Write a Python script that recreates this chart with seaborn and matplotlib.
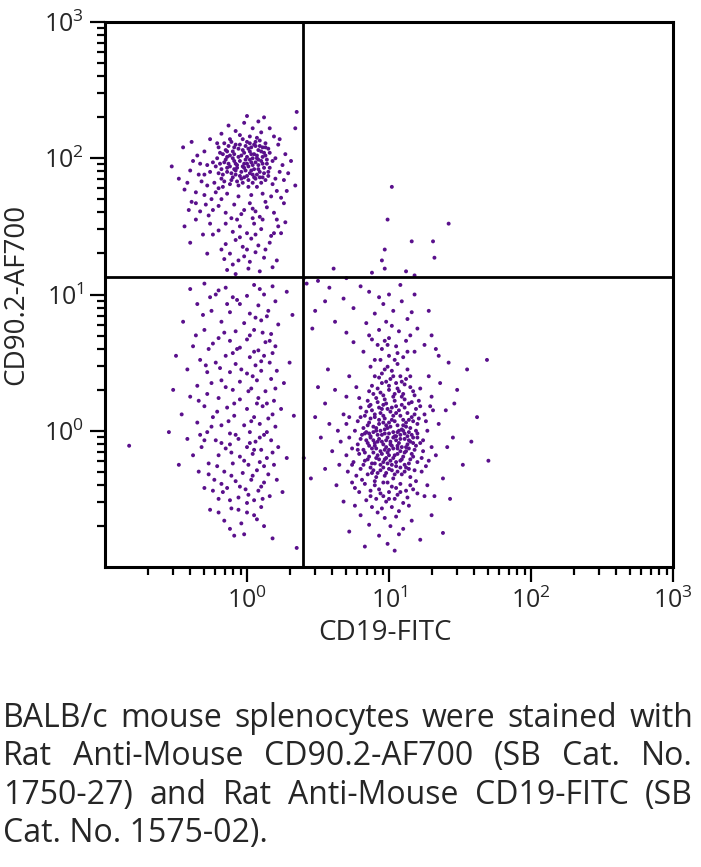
"""
Flow cytometry dot plot: CD19-FITC vs CD90.2-AF700 on BALB/c splenocytes
"""

import matplotlib
matplotlib.use('Agg')
import matplotlib.pyplot as plt
import matplotlib.ticker as mticker
import numpy as np
import pandas as pd
import seaborn as sns

sns.set_style('ticks')
FONT = ['Open Sans', 'DejaVu Sans']
plt.rcParams['font.family'] = FONT
plt.rcParams['mathtext.fontset'] = 'custom'
plt.rcParams['mathtext.rm'] = 'Open Sans'
plt.rcParams['mathtext.it'] = 'Open Sans'

# event data, in log10 units (CD19-FITC, CD90.2-AF700)
t_cells_log = [
    (-0.12, 2.02), (-0.05, 1.98), (0.02, 2.05), (0.08, 1.95), (-0.18, 1.92), (0.11, 2.08), (-0.08, 2.10), (0.04, 1.88), (-0.02, 1.93), (0.14, 1.99),
    (-0.15, 2.06), (0.06, 2.12), (-0.10, 1.86), (0.00, 2.01), (0.09, 1.90), (-0.21, 2.00), (0.16, 2.04), (-0.06, 2.07), (0.03, 1.97), (-0.13, 1.96),
    (0.12, 1.93), (-0.03, 2.14), (0.07, 2.02), (-0.17, 1.88), (0.01, 1.84), (-0.09, 2.03), (0.10, 1.98), (-0.01, 2.09), (0.05, 1.92), (-0.20, 2.08),
    (0.13, 2.11), (-0.07, 1.95), (0.02, 1.89), (-0.14, 2.01), (0.08, 2.06), (-0.04, 1.90), (0.15, 1.87), (-0.11, 2.12), (0.04, 2.00), (-0.16, 1.97),
    (0.06, 1.85), (-0.02, 2.04), (0.11, 2.01), (-0.08, 1.91), (0.00, 1.96), (-0.19, 2.04), (0.09, 2.13), (-0.05, 1.87), (0.03, 2.08), (-0.12, 1.94),
    (0.14, 1.96), (-0.01, 1.99), (0.07, 1.88), (-0.15, 1.99), (0.02, 2.11), (-0.09, 1.98), (0.12, 1.89), (-0.06, 2.01), (0.05, 2.03), (-0.22, 1.94),
    (0.10, 2.05), (-0.03, 1.94), (0.01, 2.07), (-0.13, 2.09), (0.08, 1.99), (-0.07, 1.83), (0.16, 1.93), (-0.10, 2.05), (0.04, 1.95), (-0.18, 1.85),
    (0.06, 2.09), (-0.04, 2.02), (0.13, 2.02), (-0.02, 1.86), (0.00, 2.12), (-0.16, 2.11), (0.09, 1.86), (-0.08, 1.96), (0.03, 1.91), (-0.11, 1.89),
    (0.11, 1.96), (-0.05, 2.10), (0.07, 2.15), (-0.14, 1.93), (0.02, 1.99), (-0.20, 1.89), (0.15, 2.07), (-0.01, 1.91), (0.05, 1.86), (-0.09, 2.08),
    (-0.24, 1.97), (0.18, 1.98), (-0.06, 1.80), (0.10, 1.82), (-0.12, 1.81), (0.01, 1.79), (0.07, 1.79), (-0.17, 1.79), (0.13, 1.84), (-0.03, 1.82),
    (-0.30, 2.05), (-0.34, 1.88), (-0.28, 1.80), (0.22, 2.10), (0.25, 1.95), (0.20, 1.85), (-0.38, 1.98), (-0.42, 1.82), (0.27, 2.03), (-0.26, 2.14),
    (0.19, 2.16), (-0.08, 2.20), (0.04, 2.22), (0.10, 2.19), (-0.02, 2.26), (0.08, 2.27), (-0.18, 2.18), (0.16, 2.22), (-0.30, 1.73), (-0.36, 1.75),
    (-0.25, 1.70), (-0.44, 1.77), (0.21, 1.76), (0.24, 1.71), (0.17, 1.72), (-0.48, 1.85), (-0.40, 1.91), (-0.33, 1.96), (0.29, 1.89), (0.31, 1.98),
    (-0.22, 1.75), (-0.14, 1.74), (0.03, 1.73), (-0.06, 1.72), (0.11, 1.74), (-0.29, 1.66), (-0.20, 1.65), (-0.09, 1.66), (0.02, 1.67), (0.14, 1.64),
    (-0.33, 1.61), (-0.24, 1.62), (-0.15, 1.60), (0.06, 1.61), (0.19, 1.60), (-0.39, 1.68), (0.26, 1.67), (-0.53, 1.94), (-0.45, 2.08), (-0.39, 2.12),
    (0.23, 2.14), (-0.13, 2.24), (0.12, 2.30), (0.00, 2.31), (-0.27, 1.58), (0.09, 1.57), (-0.04, 1.59), (0.21, 1.55), (-0.41, 1.62), (0.34, 1.80),
    (-0.15, 1.52), (-0.05, 1.50), (0.05, 1.52), (-0.10, 1.46), (0.00, 1.45), (-0.20, 1.47), (0.10, 1.48), (-0.08, 1.40), (0.03, 1.41), (-0.15, 1.37),
    (0.17, 1.43), (-0.03, 1.35), (0.08, 1.36), (-0.12, 1.30), (-0.02, 1.28), (0.06, 1.31), (-0.18, 1.33), (-0.06, 1.25), (0.02, 1.24), (-0.10, 1.22),
    (0.12, 1.27), (0.19, 1.45), (0.16, 1.38), (-0.31, 1.44), (-0.40, 1.38), (-0.26, 1.52), (0.22, 1.50), (0.27, 1.53), (-0.07, 1.55), (0.11, 1.55),
    (-0.36, 1.55), (0.24, 1.45), (0.01, 1.19), (-0.14, 1.18), (0.09, 1.17), (0.35, 2.34), (0.34, 2.22),
    (-0.17, 2.03), (-0.10, 2.00), (-0.03, 2.06), (0.05, 2.10), (0.12, 2.04), (-0.14, 1.90), (-0.07, 1.93), (0.01, 1.94), (0.08, 1.92), (0.15, 1.90),
    (-0.19, 1.96), (-0.11, 1.84), (-0.04, 1.85), (0.04, 1.82), (0.11, 1.86), (-0.16, 1.83), (-0.08, 1.88), (0.00, 1.87), (0.06, 1.97), (0.13, 2.08),
    (-0.12, 2.14), (-0.05, 2.17), (0.02, 2.16), (0.09, 2.09), (-0.21, 2.11), (-0.02, 1.96), (0.07, 2.00), (-0.09, 1.92), (0.03, 2.03), (-0.14, 2.05),
    (-0.26, 1.90), (-0.32, 1.83), (0.20, 2.00), (0.23, 1.90), (-0.23, 1.82), (0.18, 1.81), (-0.35, 2.02), (-0.28, 1.95), (0.26, 1.84), (0.28, 1.76),
    (-0.36, 1.67), (-0.18, 1.70), (-0.02, 1.62), (0.13, 1.68), (-0.11, 1.56), (0.04, 1.56), (-0.24, 1.44), (0.13, 1.33), (-0.28, 1.30), (0.21, 1.25),
    (-0.05, 1.42), (0.06, 1.44), (-0.16, 1.26), (0.00, 1.33), (-0.44, 1.50), (0.18, 1.20), (-0.08, 1.15), (0.04, 1.63), (-0.30, 1.88), (-0.20, 1.78),
]

dn_cells_log = [
    (-0.30, 1.08), (-0.15, 1.05), (0.05, 1.07), (0.18, 1.06), (-0.22, 1.00), (-0.10, 0.98), (0.00, 0.99), (0.12, 1.00), (-0.35, 0.93), (-0.05, 0.93),
    (0.08, 0.92), (0.20, 0.95), (-0.25, 0.88), (-0.12, 0.87), (0.02, 0.86), (0.15, 0.88), (-0.45, 0.80), (-0.18, 0.80), (-0.02, 0.79), (0.10, 0.81),
    (0.22, 0.78), (-0.30, 0.74), (-0.08, 0.73), (0.05, 0.74), (0.17, 0.71), (-0.20, 0.68), (-0.12, 0.66), (0.00, 0.67), (0.13, 0.65), (-0.38, 0.62),
    (-0.27, 0.60), (-0.05, 0.61), (0.08, 0.59), (0.20, 0.62), (-0.15, 0.55), (0.02, 0.54), (0.12, 0.55), (-0.33, 0.52), (-0.22, 0.50), (-0.08, 0.49),
    (0.06, 0.48), (0.16, 0.50), (-0.42, 0.45), (-0.28, 0.43), (-0.12, 0.43), (0.00, 0.42), (0.10, 0.44), (0.21, 0.44), (-0.18, 0.37), (-0.05, 0.36),
    (0.07, 0.37), (0.17, 0.38), (-0.35, 0.33), (-0.25, 0.35), (-0.10, 0.30), (0.03, 0.31), (0.13, 0.29), (-0.40, 0.25), (-0.20, 0.24), (-0.05, 0.23),
    (0.08, 0.24), (0.19, 0.22), (-0.30, 0.18), (-0.14, 0.17), (0.00, 0.16), (0.11, 0.18), (0.24, 0.16), (-0.46, 0.12), (-0.24, 0.10), (-0.09, 0.11),
    (0.05, 0.10), (0.15, 0.09), (-0.35, 0.06), (-0.18, 0.04), (-0.02, 0.04), (0.09, 0.05), (0.20, 0.03), (-0.28, -0.01), (-0.12, -0.02), (0.02, -0.01),
    (0.12, -0.03), (-0.83, -0.11), (-0.42, -0.06), (-0.22, -0.07), (-0.06, -0.06), (0.06, -0.08), (0.17, -0.07), (-0.32, -0.12), (-0.15, -0.13), (0.00, -0.12),
    (0.10, -0.14), (0.22, -0.12), (-0.38, -0.18), (-0.20, -0.18), (-0.05, -0.19), (0.04, -0.17), (0.14, -0.20), (-0.27, -0.24), (-0.10, -0.24), (0.01, -0.25),
    (0.09, -0.23), (0.19, -0.25), (-0.34, -0.30), (-0.16, -0.30), (-0.03, -0.31), (0.07, -0.29), (0.15, -0.32), (-0.23, -0.36), (-0.08, -0.37), (0.03, -0.36),
    (0.12, -0.38), (-0.30, -0.42), (-0.14, -0.42), (-0.01, -0.43), (0.08, -0.44), (-0.20, -0.50), (-0.06, -0.49), (0.05, -0.51), (0.16, -0.48), (-0.26, -0.58),
    (-0.11, -0.57), (0.00, -0.60), (0.10, -0.56), (-0.16, -0.66), (-0.04, -0.68), (0.07, -0.65), (-0.09, -0.77), (-0.02, -0.76), (0.18, -0.79), (0.35, -0.86),
    (0.26, 0.35), (0.32, 0.85), (0.28, -0.20), (0.33, 0.11), (-0.50, 0.55), (-0.55, -0.01), (-0.48, -0.25), (-0.52, 0.30), (0.25, -0.45), (0.30, 0.50),
    (-0.36, 0.70), (-0.26, 0.98), (-0.40, 1.04), (0.28, 1.02), (0.11, 0.72), (-0.14, 0.93), (0.05, 0.58), (-0.28, 0.27), (-0.17, -0.45), (0.02, -0.09),
    (-0.07, 0.60), (0.14, 0.20), (-0.33, -0.03), (-0.19, 0.46), (0.21, -0.36), (0.06, 0.83), (-0.11, -0.16), (0.18, 0.57), (-0.24, -0.44), (0.01, 0.29),
    (-0.20, 1.03), (0.09, 1.04), (-0.07, 0.96), (0.14, 0.84), (-0.31, 0.85), (-0.16, 0.72), (0.02, 0.70), (-0.24, 0.64), (0.16, 0.66), (-0.10, 0.57),
    (0.10, 0.51), (-0.29, 0.48), (-0.04, 0.45), (0.04, 0.40), (-0.15, 0.32), (0.20, 0.31), (-0.34, 0.22), (0.07, 0.20), (-0.09, 0.20), (-0.21, 0.14),
    (0.18, 0.12), (0.03, 0.07), (-0.13, 0.07), (-0.25, 0.03), (0.14, -0.01), (-0.08, -0.03), (0.09, -0.05), (-0.18, -0.09), (-0.30, -0.07), (0.05, -0.14),
    (-0.12, -0.10), (0.18, -0.16), (-0.02, -0.22), (-0.21, -0.26), (0.12, -0.26), (0.04, -0.33), (-0.11, -0.33), (-0.27, -0.32), (0.10, -0.41), (-0.05, -0.41),
    (-0.18, -0.39), (0.01, -0.47), (-0.12, -0.51), (0.11, -0.50), (-0.06, -0.58), (0.05, -0.62), (-0.20, -0.60), (0.12, -0.70), (-0.12, -0.72), (0.00, -0.53),
]

b_cells_log = [
    (0.95, 0.42), (1.02, 0.44), (1.08, 0.40), (0.98, 0.36), (1.05, 0.35), (1.12, 0.38), (0.92, 0.31), (1.00, 0.30), (1.07, 0.29), (1.15, 0.32),
    (0.96, 0.26), (1.03, 0.25), (1.10, 0.27), (0.89, 0.27), (1.18, 0.26), (0.99, 0.47), (1.06, 0.49), (0.93, 0.39), (1.13, 0.45), (1.01, 0.38),
    (0.85, 0.22), (0.92, 0.21), (0.98, 0.20), (1.04, 0.22), (1.09, 0.19), (1.16, 0.21), (1.22, 0.18), (0.80, 0.17), (0.88, 0.15), (0.95, 0.16),
    (1.01, 0.14), (1.07, 0.15), (1.13, 0.13), (1.19, 0.16), (0.83, 0.11), (0.90, 0.10), (0.97, 0.09), (1.03, 0.11), (1.10, 0.08), (1.16, 0.10),
    (1.25, 0.12), (0.78, 0.07), (0.86, 0.06), (0.93, 0.05), (1.00, 0.06), (1.06, 0.04), (1.12, 0.06), (1.20, 0.05), (0.94, 0.13), (1.05, 0.18),
    (0.99, 0.02), (1.09, 0.01), (0.89, 0.03), (1.15, 0.02), (1.02, 0.08), (0.96, 0.19), (1.11, 0.23), (0.87, 0.19), (1.21, 0.09), (0.82, 0.02),
    (0.76, 0.00), (0.84, -0.01), (0.91, 0.00), (0.97, -0.02), (1.03, -0.01), (1.08, -0.03), (1.14, -0.01), (1.20, -0.02), (1.27, 0.00), (0.72, -0.05),
    (0.80, -0.06), (0.87, -0.05), (0.93, -0.06), (0.99, -0.05), (1.05, -0.07), (1.11, -0.06), (1.17, -0.05), (1.24, -0.07), (0.78, -0.10), (0.85, -0.09),
    (0.90, -0.11), (0.96, -0.10), (1.02, -0.11), (1.07, -0.09), (1.13, -0.10), (1.19, -0.11), (0.74, -0.13), (0.82, -0.14), (0.88, -0.13), (0.94, -0.15),
    (1.00, -0.14), (1.06, -0.13), (1.12, -0.15), (1.18, -0.14), (1.30, -0.12), (0.95, -0.03), (1.01, -0.08), (1.09, -0.12), (0.86, -0.02), (1.15, -0.08),
    (0.92, -0.08), (1.04, -0.04), (0.98, -0.12), (1.10, 0.00), (0.89, -0.07), (1.22, -0.09), (0.81, -0.03), (1.06, -0.01), (0.97, 0.01), (1.13, -0.04),
    (0.70, -0.18), (0.79, -0.17), (0.86, -0.19), (0.92, -0.18), (0.98, -0.20), (1.04, -0.18), (1.10, -0.19), (1.16, -0.17), (1.23, -0.20), (0.75, -0.23),
    (0.83, -0.22), (0.90, -0.24), (0.96, -0.23), (1.02, -0.25), (1.08, -0.22), (1.14, -0.24), (1.20, -0.23), (0.80, -0.28), (0.87, -0.27), (0.94, -0.29),
    (1.00, -0.28), (1.06, -0.30), (1.12, -0.27), (1.18, -0.29), (0.77, -0.33), (0.85, -0.32), (0.91, -0.34), (0.97, -0.33), (1.03, -0.35), (1.09, -0.32),
    (1.15, -0.34), (1.26, -0.26), (0.99, -0.16), (1.05, -0.26), (0.93, -0.21), (1.11, -0.30), (0.88, -0.31), (1.01, -0.22),
    (0.74, -0.38), (0.83, -0.39), (0.90, -0.40), (0.96, -0.38), (1.02, -0.41), (1.08, -0.39), (1.15, -0.40), (0.79, -0.45), (0.87, -0.44), (0.94, -0.46),
    (1.00, -0.45), (1.06, -0.47), (1.12, -0.44), (1.20, -0.46), (0.84, -0.51), (0.91, -0.50), (0.98, -0.52), (1.04, -0.50), (1.10, -0.53), (0.76, -0.55),
    (0.88, -0.56), (0.95, -0.57), (1.02, -0.56), (1.14, -0.55), (0.92, -0.60), (1.07, -0.59),
    (0.80, -0.62), (0.97, -0.64), (1.05, -0.63), (1.16, -0.66), (0.86, -0.69), (1.01, -0.70), (1.10, -0.72), (0.72, -0.74), (0.93, -0.77), (1.07, -0.76),
    (0.99, -0.83), (1.22, -0.80), (0.83, -0.85), (1.04, -0.88), (1.30, -0.62), (1.38, -0.75),
    (0.90, 0.52), (1.00, 0.55), (1.10, 0.54), (0.82, 0.58), (0.95, 0.60), (1.05, 0.62), (1.18, 0.58), (0.75, 0.65), (0.88, 0.67), (1.00, 0.68),
    (1.12, 0.66), (1.25, 0.63), (0.70, 0.72), (0.93, 0.74), (1.07, 0.73), (1.20, 0.75), (0.84, 0.79), (0.98, 0.80), (1.13, 0.82), (0.62, 0.80),
    (0.90, 0.86), (1.03, 0.88), (1.16, 0.87), (0.75, 0.90), (0.96, 0.93), (1.09, 0.95), (0.68, 0.97), (1.00, 1.00), (0.86, 1.02), (1.18, 1.00),
    (0.55, 0.95), (0.48, 0.88), (0.58, 1.05), (0.42, 1.08), (0.46, 0.75), (1.30, 0.70), (1.35, 0.55), (1.42, 0.50), (1.28, 0.88), (0.80, 1.06),
    (1.08, 1.07), (0.93, 0.98), (1.02, 0.77), (0.86, 0.70), (1.15, 0.70), (0.97, 0.66), (1.06, 0.57), (0.92, 0.63),
    (0.48, 0.10), (0.52, -0.05), (0.55, 0.20), (0.60, -0.15), (0.58, 0.05), (0.62, 0.30), (0.65, -0.25), (0.68, 0.12), (0.66, -0.08), (0.70, 0.25),
    (0.45, -0.35), (0.55, -0.28), (0.63, -0.40), (0.68, -0.52), (0.72, 0.40), (0.57, 0.45), (0.50, 0.32), (0.40, -0.20), (0.64, 0.00), (0.71, -0.30),
    (1.30, 0.25), (1.35, 0.05), (1.33, -0.18), (1.40, 0.15), (1.45, -0.05), (1.38, -0.35), (1.28, 0.40), (1.48, 0.30), (1.52, -0.25), (1.62, 0.10),
    (1.70, -0.22), (1.55, 0.45), (1.43, -0.50), (1.32, -0.48), (1.36, 0.35), (1.41, -0.12), (1.27, -0.40), (1.58, -0.08), (1.29, 0.18), (1.46, 0.20),
    (1.69, 0.52), (1.33, 0.60), (0.40, 1.12), (0.50, 1.10), (0.70, 1.12),
    (0.88, 0.33), (0.94, 0.28), (1.00, 0.33), (1.06, 0.31), (1.11, 0.34), (1.17, 0.29), (0.91, 0.24), (0.97, 0.23), (1.04, 0.27), (1.09, 0.25),
    (1.14, 0.20), (0.86, 0.18), (0.93, 0.17), (0.99, 0.16), (1.05, 0.13), (1.11, 0.17), (1.18, 0.12), (0.84, 0.14), (0.90, 0.12), (0.96, 0.11),
    (1.02, 0.17), (1.08, 0.11), (1.14, 0.08), (0.87, 0.09), (0.93, 0.08), (0.98, 0.04), (1.04, 0.07), (1.10, 0.04), (1.17, 0.07), (0.85, 0.04),
    (0.91, 0.02), (0.96, 0.06), (1.01, 0.03), (1.07, 0.00), (1.12, 0.03), (1.19, 0.00), (0.83, -0.02), (0.89, -0.01), (0.94, 0.00), (1.00, -0.02),
    (1.05, -0.04), (1.11, -0.02), (1.16, -0.03), (0.87, -0.04), (0.92, -0.03), (0.98, -0.07), (1.03, -0.05), (1.08, -0.06), (1.14, -0.07), (1.20, -0.05),
    (0.84, -0.07), (0.90, -0.09), (0.95, -0.08), (1.01, -0.10), (1.06, -0.11), (1.12, -0.12), (1.17, -0.09), (0.86, -0.11), (0.91, -0.13), (0.97, -0.14),
    (1.03, -0.13), (1.08, -0.15), (1.14, -0.13), (0.83, -0.16), (0.89, -0.16), (0.95, -0.17), (1.00, -0.18), (1.06, -0.17), (1.11, -0.16), (1.17, -0.19),
    (0.85, -0.21), (0.91, -0.20), (0.97, -0.21), (1.03, -0.20), (1.09, -0.21), (1.15, -0.21), (0.88, -0.24), (0.94, -0.25), (0.99, -0.24), (1.05, -0.23),
    (1.11, -0.25), (0.82, -0.25), (0.89, -0.29), (0.96, -0.27), (1.02, -0.29), (1.08, -0.27), (1.14, -0.28), (0.92, -0.31), (0.98, -0.31), (1.04, -0.32),
    (0.95, 0.35), (1.03, 0.40), (1.09, 0.36), (0.97, 0.45), (0.90, 0.40), (1.15, 0.40), (0.86, 0.29), (1.21, 0.22), (1.24, -0.15), (1.26, 0.07),
    (0.80, 0.10), (0.78, -0.14), (0.79, 0.24), (1.23, -0.30), (0.81, -0.36), (1.19, -0.37), (0.99, -0.38), (1.05, -0.42), (0.93, -0.43), (0.87, -0.48),
    (1.13, -0.49), (1.00, -0.50), (1.08, -0.45), (0.96, -0.48), (0.90, -0.37), (1.17, -0.43), (0.76, -0.42), (1.25, -0.48), (0.72, 0.10), (0.74, -0.25),
    (1.28, -0.22), (1.31, 0.15), (0.70, 0.05), (0.77, 0.32), (1.22, 0.31), (0.94, 0.52), (1.04, 0.52), (1.13, 0.58), (0.99, 0.63), (0.87, 0.47),
]

dp_cells_log = [
    (1.02, 1.79), (0.99, 1.55), (1.42, 1.52), (1.16, 1.39), (1.31, 1.39), (0.97, 1.33), (0.95, 1.25), (1.32, 1.27),
    (0.97, 1.19), (0.61, 1.19), (0.88, 1.16), (1.12, 1.17), (1.18, 1.14),
]

# quadrant gates
gate_cd19 = 2.49
gate_cd90 = 13.4

caption_lines = [
    'BALB/c mouse splenocytes were stained with',
    'Rat Anti-Mouse CD90.2-AF700 (SB Cat. No.',
    '1750-27) and Rat Anti-Mouse CD19-FITC (SB',
    'Cat. No. 1575-02).',
]


def build_frame():
    frames = []
    for name, pts in [('T', t_cells_log), ('DN', dn_cells_log), ('B', b_cells_log), ('DP', dp_cells_log)]:
        arr = np.array(pts)
        frames.append(pd.DataFrame({'CD19': 10 ** arr[:, 0], 'CD90': 10 ** arr[:, 1], 'pop': name}))
    return pd.concat(frames, ignore_index=True)


def justify_line(fig, words, y_px, x0_px, x1_px, size):
    W, H = fig.get_size_inches() * fig.dpi
    renderer = fig.canvas.get_renderer()
    texts = [fig.text(0, 1 - y_px / H, w, fontsize=size, va='baseline', ha='left') for w in words]
    widths = [t.get_window_extent(renderer).width for t in texts]
    gap = (x1_px - x0_px - sum(widths)) / (len(words) - 1)
    x = x0_px
    for t, w in zip(texts, widths):
        t.set_x(x / W)
        x += w + gap


df = build_frame()

fig = plt.figure(figsize=(7.01, 8.67), dpi=100)
ax = fig.add_axes([105 / 701, 1 - 567 / 867, 568 / 701, 545 / 867])

sns.scatterplot(data=df, x='CD19', y='CD90', color='#5a108c', s=8, linewidth=0,
                edgecolor='none', legend=False, ax=ax)

ax.set_xscale('log')
ax.set_yscale('log')
ax.set_xlim(0.1, 1000)
ax.set_ylim(0.1, 1000)

ax.axvline(gate_cd19, color='black', lw=2.0)
ax.axhline(gate_cd90, color='black', lw=2.0)

for axis in (ax.xaxis, ax.yaxis):
    axis.set_major_locator(mticker.FixedLocator([1, 10, 100, 1000]))
    axis.set_major_formatter(mticker.FixedFormatter([r'$10^{0}$', r'$10^{1}$', r'$10^{2}$', r'$10^{3}$']))
    axis.set_minor_locator(mticker.LogLocator(base=10, subs=np.arange(2, 10), numticks=20))
    axis.set_minor_formatter(mticker.NullFormatter())

ax.tick_params(which='major', length=11, width=1.6, labelsize=18, pad=4, color='black')
ax.tick_params(which='minor', length=5.5, width=1.6, color='black')
for sp in ax.spines.values():
    sp.set_linewidth(2.2)
    sp.set_color('black')

ax.set_xlabel('CD19-FITC', fontsize=20)
ax.set_ylabel('CD90.2-AF700', fontsize=20)
ax.xaxis.set_label_coords(0.493, -0.095)
ax.yaxis.set_label_coords(-0.132, 0.5)

baselines = [727, 765, 804, 842]
for i, line in enumerate(caption_lines):
    if i < 3:
        justify_line(fig, line.split(' '), baselines[i], 3, 693, 23)
    else:
        fig.text(3 / 701, 1 - baselines[i] / 867, line, fontsize=23, va='baseline', ha='left')

plt.savefig('out.png', dpi=100)
plt.close()
